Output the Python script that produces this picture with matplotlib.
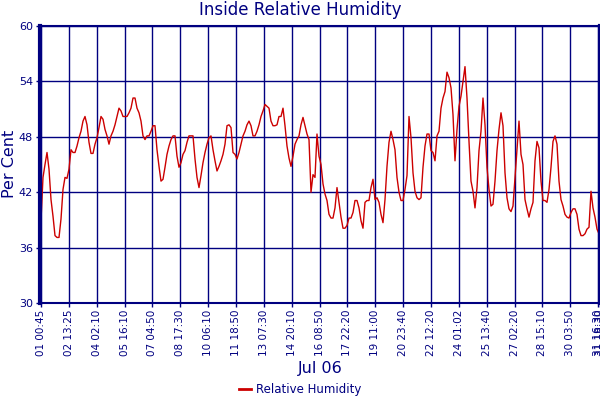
import numpy as np
import matplotlib
matplotlib.use("Agg")
import matplotlib.pyplot as plt

# humidity readings, one row per tick interval (14 samples each)
humidity = [
    39.0, 43.6, 45.0, 46.3, 44.5, 41.2, 39.4, 37.3, 37.1, 37.1, 39.1, 42.3, 43.6, 43.5,
    44.5, 46.6, 46.3, 46.3, 47.0, 47.9, 48.6, 49.7, 50.2, 49.3, 47.4, 46.2, 46.2, 47.2,
    47.9, 49.0, 50.2, 49.9, 48.8, 48.1, 47.2, 48.1, 48.6, 49.3, 50.2, 51.1, 50.8, 50.2,
    50.2, 50.2, 50.6, 51.1, 52.2, 52.2, 51.1, 50.6, 49.7, 48.1, 47.7, 48.1, 48.1, 48.6,
    49.2, 49.2, 46.6, 44.8, 43.2, 43.4, 44.7, 46.1, 47.0, 47.7, 48.1, 48.1, 45.9, 44.7,
    45.2, 46.1, 46.5, 47.4, 48.1, 48.1, 48.1, 45.6, 43.6, 42.5, 43.8, 45.2, 46.3, 47.2,
    47.9, 48.1, 46.6, 45.4, 44.3, 44.8, 45.4, 46.1, 47.2, 49.2, 49.3, 49.0, 46.3, 46.1,
    45.6, 46.3, 47.2, 48.1, 48.6, 49.3, 49.7, 49.2, 48.1, 48.1, 48.6, 49.3, 50.2, 50.8,
    51.5, 51.3, 51.1, 49.7, 49.2, 49.2, 49.3, 50.2, 50.2, 51.1, 49.2, 47.0, 45.7, 44.8,
    45.9, 47.2, 47.7, 48.1, 49.3, 50.1, 49.2, 48.3, 47.7, 42.0, 43.9, 43.6, 48.3, 45.9,
    45.0, 42.9, 41.8, 41.1, 39.6, 39.2, 39.2, 40.3, 42.5, 40.9, 39.3, 38.1, 38.1, 38.4,
    39.2, 39.2, 39.8, 41.1, 41.1, 40.3, 38.9, 38.1, 40.9, 41.1, 41.1, 42.5, 43.4, 41.2,
    41.4, 40.9, 39.6, 38.7, 41.2, 44.8, 47.4, 48.6, 47.7, 46.6, 43.6, 42.0, 41.1, 41.1,
    42.3, 43.8, 50.2, 47.9, 44.1, 42.1, 41.4, 41.2, 41.4, 44.7, 47.0, 48.3, 48.3, 46.5,
    46.3, 45.4, 48.1, 48.6, 51.1, 52.2, 52.9, 55.0, 54.4, 53.3, 50.4, 45.4, 48.8, 51.3,
    52.4, 54.0, 55.6, 52.2, 47.5, 43.2, 42.1, 40.3, 42.5, 46.5, 48.6, 52.2, 49.3, 44.7,
    42.3, 40.5, 40.7, 43.2, 46.5, 48.8, 50.6, 49.2, 44.1, 41.4, 40.2, 39.9, 40.5, 43.6,
    46.8, 49.7, 46.1, 45.0, 41.2, 40.2, 39.3, 40.2, 40.9, 45.4, 47.5, 46.8, 43.2, 41.1,
    41.1, 40.9, 42.3, 44.7, 47.5, 48.1, 47.2, 43.2, 41.2, 40.5, 39.6, 39.3, 39.2, 39.8,
    40.2, 40.2, 39.6, 38.0, 37.3, 37.3, 37.5, 38.0, 38.2, 42.1, 40.3, 39.3, 38.0, 37.5,
]

tick_labels = [
    "01 00:45", "02 13:25", "04 02:10", "05 16:10", "07 04:50", "08 17:30",
    "10 06:10", "11 18:50", "13 07:30", "14 20:10", "16 08:50", "17 22:20",
    "19 11:00", "20 23:40", "22 12:20", "24 01:02", "25 13:40", "27 02:20",
    "28 15:10", "30 03:50", "31 16:30", "31 18:30",
]

y_ticks = [30, 36, 42, 48, 54, 60]

navy = "#000080"

fig = plt.figure(figsize=(6, 4), dpi=100)
ax = fig.add_axes([40 / 600, 1 - 303 / 400, 560 / 600, 277 / 400])

x = np.arange(len(humidity))
ax.plot(x, humidity, color="#CC0000", linewidth=1.0, label="Relative Humidity")

step = 13.93
tick_pos = list(np.arange(20) * step) + [len(humidity) - 1.7, len(humidity) - 0.7]
ax.set_xticks(tick_pos)
ax.set_xticklabels(tick_labels, rotation=90, fontsize=7.5, color=navy)
ax.set_yticks(y_ticks)
ax.set_yticklabels([str(v) for v in y_ticks], fontsize=8, color=navy)
ax.set_xlim(-0.5, len(humidity) - 0.5)
ax.set_ylim(30, 60)

ax.grid(True, color=navy, linewidth=1.0)
ax.set_axisbelow(True)
ax.tick_params(axis="both", colors=navy, length=3, width=1, pad=2)
for sp in ax.spines.values():
    sp.set_color(navy)
    sp.set_linewidth(1.5)
ax.spines["left"].set_linewidth(3)
ax.spines["right"].set_linewidth(3)

fig.text(0.5, 1 - 10 / 400, "Inside Relative Humidity", ha="center", va="center",
         fontsize=12, color=navy)
fig.text(10 / 600, 1 - 164 / 400, "Per Cent", ha="center", va="center",
         rotation=90, fontsize=11.5, color=navy)
fig.text(320 / 600, 1 - 368 / 400, "Jul 06", ha="center", va="center",
         fontsize=11.5, color=navy)

leg = fig.legend(loc="center", bbox_to_anchor=(300 / 600, 1 - 390 / 400), frameon=False,
                 fontsize=8.5, handlelength=1.0, handletextpad=0.4)
for t in leg.get_texts():
    t.set_color(navy)
for h in leg.get_lines():
    h.set_linewidth(2)

fig.savefig("out.png", dpi=100)
